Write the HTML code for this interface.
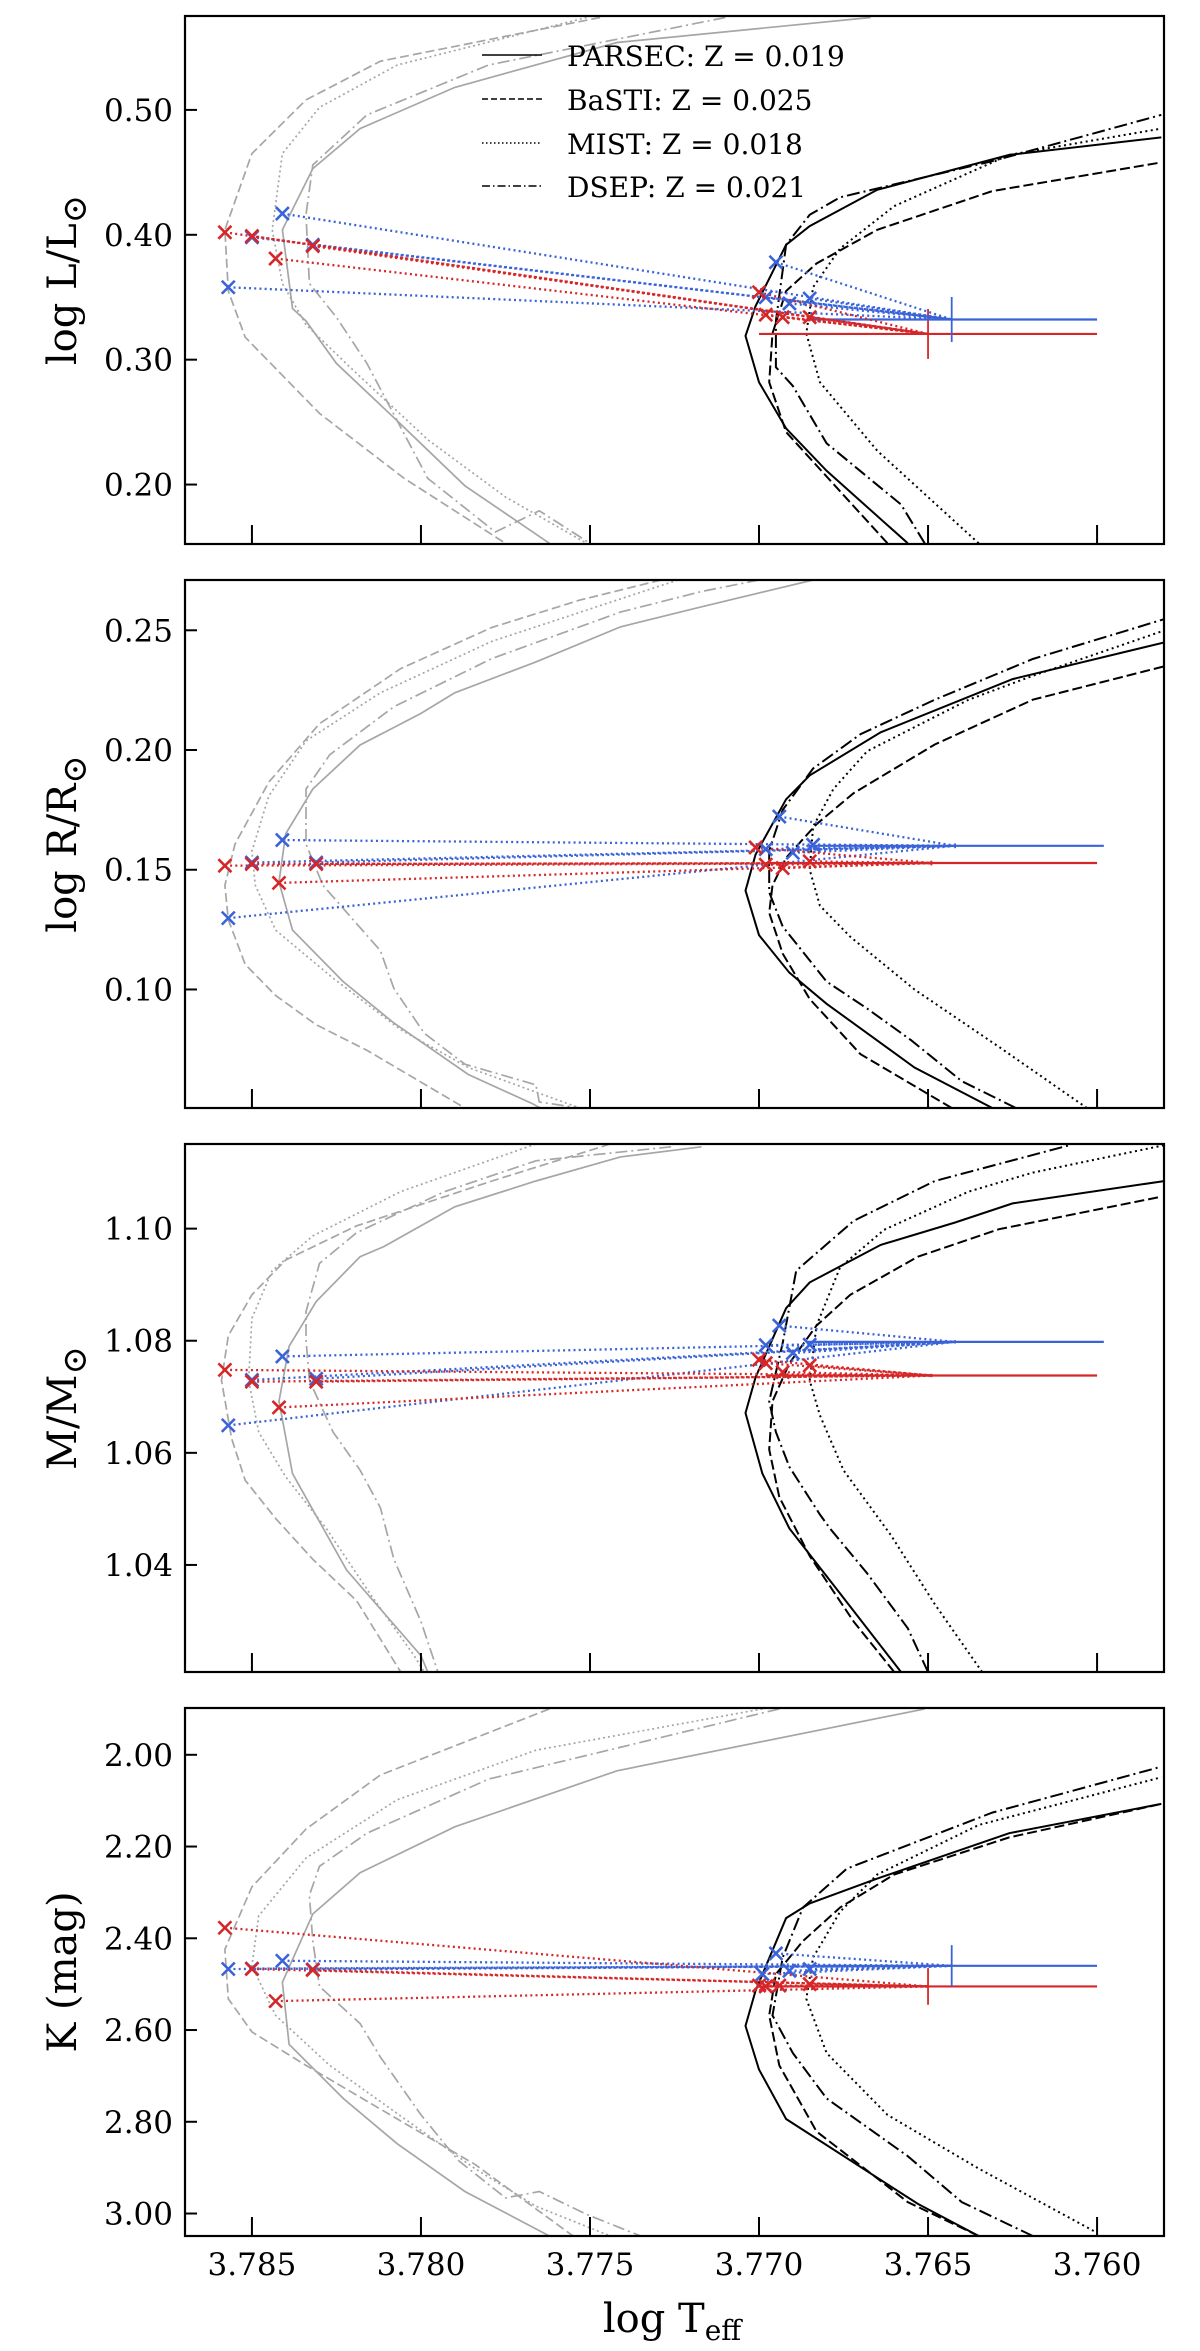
<!DOCTYPE html>
<html><head><meta charset="utf-8"><title>HR-diagram panels</title>
<style>
html,body{margin:0;padding:0;background:#fff;}
svg{display:block;}
text{font-family:"DejaVu Serif","Liberation Serif",serif;fill:#000;}
</style></head>
<body>
<svg id="fig" xmlns="http://www.w3.org/2000/svg" width="1200" height="2351" viewBox="0 0 1200 2351"></svg>
<script>
// ---------- axis configuration data ----------
const xTicks = [3.785, 3.780, 3.775, 3.770, 3.765, 3.760];
const xTickLabels = ["3.785", "3.780", "3.775", "3.770", "3.765", "3.760"];
const yTicksL = [0.50, 0.40, 0.30, 0.20];
const yTickLabelsL = ["0.50", "0.40", "0.30", "0.20"];
const yTicksR = [0.25, 0.20, 0.15, 0.10];
const yTickLabelsR = ["0.25", "0.20", "0.15", "0.10"];
const yTicksM = [1.10, 1.08, 1.06, 1.04];
const yTickLabelsM = ["1.10", "1.08", "1.06", "1.04"];
const yTicksK = [2.00, 2.20, 2.40, 2.60, 2.80, 3.00];
const yTickLabelsK = ["2.00", "2.20", "2.40", "2.60", "2.80", "3.00"];
const modelNames = ["PARSEC: Z = 0.019", "BaSTI: Z = 0.025", "MIST: Z = 0.018", "DSEP: Z = 0.021"];

// ---------- Panel 1: log L ----------
const L_gray_parsec = [[3.7667,0.574],[3.7742,0.554],[3.7790,0.518],[3.7818,0.485],[3.7832,0.453],[3.7841,0.404],[3.7838,0.341],[3.7834,0.331],[3.7825,0.297],[3.7807,0.251],[3.7787,0.199],[3.7762,0.153]];
const L_gray_basti = [[3.7747,0.574],[3.7812,0.539],[3.7834,0.508],[3.7850,0.465],[3.7858,0.404],[3.7857,0.355],[3.7852,0.318],[3.7830,0.257],[3.7805,0.205],[3.7775,0.153]];
const L_gray_mist = [[3.7751,0.574],[3.7807,0.536],[3.7830,0.502],[3.7841,0.465],[3.7844,0.404],[3.7841,0.361],[3.7834,0.328],[3.7821,0.294],[3.7798,0.236],[3.7775,0.190],[3.7751,0.153]];
const L_gray_dsep = [[3.7710,0.574],[3.7780,0.536],[3.7816,0.496],[3.7832,0.456],[3.7834,0.416],[3.7833,0.361],[3.7825,0.334],[3.7816,0.297],[3.7807,0.251],[3.7798,0.205],[3.7778,0.162],[3.7765,0.179],[3.7750,0.153]];
const L_black_parsec = [[3.7656,0.153],[3.7680,0.211],[3.7692,0.245],[3.7700,0.282],[3.7704,0.319],[3.7701,0.343],[3.7692,0.392],[3.7685,0.407],[3.7665,0.436],[3.7626,0.464],[3.7581,0.478]];
const L_black_basti = [[3.7662,0.153],[3.7692,0.242],[3.7697,0.282],[3.7696,0.321],[3.7692,0.355],[3.7683,0.377],[3.7665,0.404],[3.7631,0.435],[3.7581,0.458]];
const L_black_mist = [[3.7635,0.153],[3.7665,0.227],[3.7682,0.282],[3.7686,0.321],[3.7684,0.358],[3.7676,0.389],[3.7660,0.423],[3.7626,0.464],[3.7581,0.485]];
const L_black_dsep = [[3.7651,0.153],[3.7658,0.184],[3.7680,0.233],[3.7690,0.279],[3.7695,0.294],[3.7695,0.331],[3.7692,0.392],[3.7685,0.416],[3.7676,0.430],[3.7631,0.459],[3.7581,0.496]];
const L_red_T = [3.7858,3.7850,3.7843,3.7832,3.7700,3.7698,3.7693,3.7685];
const L_red_y = [0.402,0.399,0.381,0.391,0.354,0.336,0.334,0.334];
const L_blue_T = [3.7857,3.7850,3.7841,3.7832,3.7695,3.7698,3.7691,3.7685];
const L_blue_y = [0.358,0.398,0.417,0.392,0.378,0.350,0.345,0.349];
const L_obs = [[3.7650,0.3206,0.005,0.020],[3.7643,0.3322,0.0043,0.018]];

// ---------- Panel 2: log R ----------
const R_gray_parsec = [[3.7684,0.271],[3.7717,0.2598],[3.7741,0.2514],[3.7766,0.2368],[3.7790,0.2239],[3.7800,0.2153],[3.7818,0.2021],[3.7832,0.1837],[3.7840,0.165],[3.7842,0.1449],[3.7838,0.1248],[3.7823,0.1033],[3.7808,0.086],[3.7786,0.0645],[3.7767,0.0523],[3.7760,0.047]];
const R_gray_basti = [[3.7729,0.271],[3.7753,0.2626],[3.7779,0.2512],[3.7806,0.234],[3.7830,0.211],[3.7845,0.1866],[3.7855,0.1607],[3.7858,0.1435],[3.7857,0.1291],[3.7852,0.1105],[3.7843,0.0975],[3.7831,0.0853],[3.7816,0.0746],[3.7787,0.0505]];
const R_gray_mist = [[3.7724,0.271],[3.7779,0.2454],[3.7812,0.2239],[3.7834,0.2038],[3.7845,0.1808],[3.7850,0.1578],[3.7849,0.1435],[3.7843,0.1248],[3.7826,0.1047],[3.7806,0.0832],[3.7786,0.0674],[3.7753,0.0505]];
const R_gray_dsep = [[3.7700,0.271],[3.7717,0.2662],[3.7741,0.2576],[3.7779,0.2382],[3.7808,0.2181],[3.7827,0.198],[3.7834,0.1837],[3.7834,0.1607],[3.7829,0.1435],[3.7812,0.1162],[3.7808,0.1004],[3.7799,0.0817],[3.7787,0.0688],[3.7766,0.0602],[3.7765,0.053],[3.7753,0.0505]];
const R_black_parsec = [[3.7631,0.0505],[3.7654,0.0674],[3.7680,0.094],[3.7691,0.107],[3.7700,0.1227],[3.7704,0.1413],[3.7701,0.1564],[3.7692,0.1794],[3.7685,0.1894],[3.7664,0.2074],[3.7625,0.2296],[3.7580,0.245]];
const R_black_basti = [[3.7643,0.0505],[3.7670,0.073],[3.7685,0.096],[3.7693,0.115],[3.7697,0.132],[3.7696,0.1435],[3.7692,0.155],[3.7683,0.169],[3.7672,0.182],[3.7648,0.2023],[3.7619,0.221],[3.7580,0.235]];
const R_black_mist = [[3.7603,0.0505],[3.7629,0.076],[3.7654,0.100],[3.7673,0.122],[3.7682,0.135],[3.7685,0.150],[3.7684,0.168],[3.7678,0.1837],[3.7668,0.1995],[3.7638,0.221],[3.7619,0.231],[3.7580,0.250]];
const R_black_dsep = [[3.7624,0.0505],[3.7640,0.0617],[3.7655,0.0788],[3.7668,0.092],[3.7680,0.1033],[3.7693,0.1263],[3.7697,0.1406],[3.7697,0.158],[3.7693,0.175],[3.7684,0.1923],[3.7670,0.2066],[3.7648,0.221],[3.7619,0.238],[3.7580,0.2547]];
const R_red_T = [3.7858,3.7850,3.7842,3.7831,3.7701,3.7698,3.7693,3.7685];
const R_red_y = [0.1517,0.1524,0.1445,0.1524,0.1593,0.1521,0.1507,0.1535];
const R_blue_T = [3.7857,3.7850,3.7841,3.7831,3.7694,3.7698,3.7690,3.7684];
const R_blue_y = [0.1298,0.1530,0.1624,0.1530,0.1722,0.1586,0.1571,0.1604];
const R_obs = [[3.7649,0.1528,0.0049,0.001],[3.7642,0.1600,0.0044,0.001]];

// ---------- Panel 3: M ----------
const M_gray_parsec = [[3.7717,1.1146],[3.7741,1.1128],[3.7766,1.1085],[3.7790,1.1039],[3.7800,1.1005],[3.7811,1.0968],[3.7818,1.0950],[3.7831,1.0870],[3.7839,1.0790],[3.7842,1.0692],[3.7838,1.0563],[3.7822,1.0391],[3.7800,1.0238],[3.7798,1.0209]];
const M_gray_basti = [[3.7744,1.1151],[3.7779,1.1085],[3.7819,1.1005],[3.7840,1.0944],[3.7850,1.0882],[3.7857,1.0809],[3.7859,1.0729],[3.7856,1.0625],[3.7852,1.0551],[3.7843,1.0483],[3.7832,1.0410],[3.7819,1.0336],[3.7806,1.0209]];
const M_gray_mist = [[3.7766,1.1151],[3.7806,1.1066],[3.7832,1.0987],[3.7844,1.0925],[3.7850,1.0840],[3.7851,1.0729],[3.7848,1.0637],[3.7840,1.0557],[3.7828,1.0465],[3.7815,1.0348],[3.7802,1.0238],[3.7799,1.0209]];
const M_gray_dsep = [[3.7726,1.1146],[3.7766,1.1121],[3.7793,1.1066],[3.7819,1.0993],[3.7830,1.0938],[3.7834,1.0852],[3.7834,1.0802],[3.7833,1.0729],[3.7826,1.0637],[3.7818,1.0569],[3.7812,1.0502],[3.7808,1.0410],[3.7800,1.0299],[3.7795,1.0209]];
const M_black_parsec = [[3.7658,1.0209],[3.7676,1.0349],[3.7691,1.0465],[3.7699,1.0563],[3.7704,1.0671],[3.7701,1.0735],[3.7692,1.0858],[3.7685,1.0904],[3.7664,1.0971],[3.7642,1.1011],[3.7625,1.1045],[3.7580,1.1085]];
const M_black_basti = [[3.7660,1.0209],[3.7672,1.0299],[3.7685,1.0416],[3.7694,1.0521],[3.7697,1.0606],[3.7696,1.0692],[3.7691,1.0760],[3.7683,1.0827],[3.7673,1.0882],[3.7653,1.0950],[3.7629,1.0999],[3.7581,1.1057]];
const M_black_mist = [[3.7634,1.0209],[3.7648,1.0330],[3.7661,1.0453],[3.7675,1.0569],[3.7682,1.0667],[3.7685,1.0729],[3.7683,1.0827],[3.7676,1.0931],[3.7663,1.0998],[3.7638,1.1066],[3.7619,1.1100],[3.7580,1.1149]];
const M_black_dsep = [[3.7650,1.0209],[3.7656,1.0287],[3.7668,1.0385],[3.7679,1.0465],[3.7682,1.0490],[3.7691,1.0575],[3.7695,1.0637],[3.7697,1.0692],[3.7693,1.0796],[3.7689,1.0925],[3.7672,1.1014],[3.7648,1.1085],[3.7608,1.1149]];
const M_red_T = [3.7858,3.7850,3.7842,3.7831,3.7700,3.7698,3.7693,3.7685];
const M_red_y = [1.0748,1.0727,1.0681,1.0727,1.0766,1.0760,1.0744,1.0756];
const M_blue_T = [3.7857,3.7850,3.7841,3.7831,3.7694,3.7698,3.7690,3.7685];
const M_blue_y = [1.0649,1.0730,1.0772,1.0732,1.0827,1.0792,1.0778,1.0793];
const M_obs = [[3.7649,1.0738,0.0049,0.0003],[3.7642,1.0798,0.0044,0.0003]];

// ---------- Panel 4: K ----------
const K_gray_parsec = [[3.7651,1.900],[3.7742,2.035],[3.7790,2.157],[3.7818,2.257],[3.7832,2.347],[3.7841,2.496],[3.7839,2.631],[3.7823,2.749],[3.7807,2.848],[3.7787,2.952],[3.7762,3.049]];
const K_gray_basti = [[3.7762,1.900],[3.7812,2.044],[3.7834,2.162],[3.7850,2.288],[3.7858,2.424],[3.7857,2.532],[3.7850,2.604],[3.7834,2.677],[3.7807,2.794],[3.7784,2.893],[3.7755,3.049]];
const K_gray_mist = [[3.7699,1.900],[3.7766,1.990],[3.7807,2.098],[3.7834,2.225],[3.7848,2.351],[3.7850,2.460],[3.7843,2.568],[3.7827,2.677],[3.7803,2.803],[3.7784,2.902],[3.7766,2.984],[3.7744,3.049]];
const K_gray_dsep = [[3.7694,1.900],[3.7780,2.053],[3.7816,2.171],[3.7830,2.243],[3.7833,2.306],[3.7832,2.406],[3.7830,2.505],[3.7818,2.586],[3.7812,2.659],[3.7800,2.785],[3.7789,2.884],[3.7775,2.966],[3.7765,2.952],[3.7751,3.002],[3.7735,3.049]];
const K_black_parsec = [[3.7635,3.049],[3.7653,2.979],[3.7692,2.794],[3.7700,2.686],[3.7704,2.591],[3.7701,2.514],[3.7692,2.356],[3.7685,2.324],[3.7665,2.270],[3.7626,2.171],[3.7581,2.107]];
const K_black_basti = [[3.7635,3.049],[3.7656,2.975],[3.7683,2.821],[3.7694,2.677],[3.7697,2.568],[3.7695,2.478],[3.7687,2.406],[3.7676,2.333],[3.7660,2.261],[3.7626,2.180],[3.7581,2.107]];
const K_black_mist = [[3.7601,3.038],[3.7635,2.902],[3.7662,2.785],[3.7680,2.650],[3.7686,2.532],[3.7684,2.442],[3.7676,2.342],[3.7665,2.261],[3.7635,2.153],[3.7581,2.049]];
const K_black_dsep = [[3.7619,3.049],[3.7640,2.975],[3.7656,2.875],[3.7680,2.749],[3.7690,2.650],[3.7696,2.568],[3.7693,2.442],[3.7687,2.333],[3.7674,2.248],[3.7631,2.126],[3.7581,2.026]];
const K_red_T = [3.7858,3.7850,3.7843,3.7832,3.7700,3.7698,3.7694,3.7685];
const K_red_y = [2.377,2.467,2.537,2.469,2.503,2.505,2.503,2.500];
const K_blue_T = [3.7857,3.7850,3.7841,3.7832,3.7695,3.7699,3.7691,3.7685];
const K_blue_y = [2.467,2.466,2.449,2.468,2.433,2.478,2.471,2.467];
const K_obs = [[3.7650,2.505,0.005,0.040],[3.7643,2.460,0.0043,0.045]];

// ---------- layout ----------
const NS = "http://www.w3.org/2000/svg";
const svg = document.getElementById("fig");
const AX_L = 185, AX_R = 1164;
const X_LEFT = 3.78698, X_RIGHT = 3.75802;
function xScale(t){ return AX_L + (X_LEFT - t) / (X_LEFT - X_RIGHT) * (AX_R - AX_L); }

const panels = [
  {key:"luminosity", top:16, bottom:544, yTop:0.5752, yBot:0.1524, ticks:yTicksL, labels:yTickLabelsL,
   gray:[L_gray_parsec,L_gray_basti,L_gray_mist,L_gray_dsep], black:[L_black_parsec,L_black_basti,L_black_mist,L_black_dsep],
   redT:L_red_T, redY:L_red_y, blueT:L_blue_T, blueY:L_blue_y, obs:L_obs, legend:true},
  {key:"radius", top:580, bottom:1108, yTop:0.2710, yBot:0.0505, ticks:yTicksR, labels:yTickLabelsR,
   gray:[R_gray_parsec,R_gray_basti,R_gray_mist,R_gray_dsep], black:[R_black_parsec,R_black_basti,R_black_mist,R_black_dsep],
   redT:R_red_T, redY:R_red_y, blueT:R_blue_T, blueY:R_blue_y, obs:R_obs},
  {key:"mass", top:1144, bottom:1672, yTop:1.1151, yBot:1.0209, ticks:yTicksM, labels:yTickLabelsM,
   gray:[M_gray_parsec,M_gray_basti,M_gray_mist,M_gray_dsep], black:[M_black_parsec,M_black_basti,M_black_mist,M_black_dsep],
   redT:M_red_T, redY:M_red_y, blueT:M_blue_T, blueY:M_blue_y, obs:M_obs},
  {key:"k-mag", top:1708, bottom:2236, yTop:1.898, yBot:3.049, ticks:yTicksK, labels:yTickLabelsK,
   gray:[K_gray_parsec,K_gray_basti,K_gray_mist,K_gray_dsep], black:[K_black_parsec,K_black_basti,K_black_mist,K_black_dsep],
   redT:K_red_T, redY:K_red_y, blueT:K_blue_T, blueY:K_blue_y, obs:K_obs, xlabels:true}
];
const styleNames = ["parsec","basti","mist","dsep"];
const grayDash = ["", "9,4", "2,3", "12,4,2,4"];
const blackDash = ["", "10,4", "2,3.5", "13,4,2,4"];
const RED = "#d62728", BLUE = "#3a63d8";

function mk(tag, attrs, parent){
  const e = document.createElementNS(NS, tag);
  for (const k in attrs) e.setAttribute(k, attrs[k]);
  (parent || svg).appendChild(e);
  return e;
}

const defs = mk("defs", {});
panels.forEach((p, pi) => {
  const yScale = v => p.top + (v - p.yTop) / (p.yBot - p.yTop) * (p.bottom - p.top);
  const g = mk("g", {});
  
  
  const cp = mk("clipPath", {id:"clip"+pi}, defs);
  mk("rect", {x:AX_L, y:p.top, width:AX_R-AX_L, height:p.bottom-p.top}, cp);
  const plot = mk("g", {"clip-path":"url(#clip"+pi+")"}, g);

  // gray and black model curves
  p.gray.forEach((pts, i) => {
    const pl = mk("polyline", {points: pts.map(q => xScale(q[0]).toFixed(1)+","+yScale(q[1]).toFixed(1)).join(" "),
      fill:"none", stroke:"#a6a6a6", "stroke-width":1.7, "stroke-dasharray":grayDash[i]}, plot);
    
    
  });
  p.black.forEach((pts, i) => {
    const pl = mk("polyline", {points: pts.map(q => xScale(q[0]).toFixed(1)+","+yScale(q[1]).toFixed(1)).join(" "),
      fill:"none", stroke:"#000", "stroke-width":2, "stroke-dasharray":blackDash[i]}, plot);
    
    
  });

  // observed points with error bars
  const obsColors = [RED, BLUE];
  p.obs.forEach((o, k) => {
    const c = obsColors[k];
    const cx = xScale(o[0]), cy = yScale(o[1]);
    const eh = mk("line", {x1:xScale(o[0]+o[2]), x2:xScale(o[0]-o[2]), y1:cy, y2:cy, stroke:c, "stroke-width":2.2}, plot);
    
    
    const ev = mk("line", {x1:cx, x2:cx, y1:yScale(o[1]-o[3]), y2:yScale(o[1]+o[3]), stroke:c, "stroke-width":1.8}, plot);
    
    
  });

  // connecting dotted lines + markers
  const sets = [[p.blueT, p.blueY, BLUE, p.obs[1], "blue"], [p.redT, p.redY, RED, p.obs[0], "red"]];
  sets.forEach(s => {
    const [Ts, Ys, c, o, nm] = s;
    Ts.forEach((t, j) => {
      const ln = mk("line", {x1:xScale(t), y1:yScale(Ys[j]), x2:xScale(o[0]), y2:yScale(o[1]), stroke:c, "stroke-width":2.3, "stroke-dasharray":"2,3.2"}, plot);
      
      
    });
  });
  sets.forEach(s => {
    const [Ts, Ys, c, o, nm] = s;
    Ts.forEach((t, j) => {
      const x = xScale(t), y = yScale(Ys[j]), r = 6.5;
      const m = mk("path", {d:`M${x-r},${y-r}L${x+r},${y+r}M${x-r},${y+r}L${x+r},${y-r}`, stroke:c, "stroke-width":2.6, fill:"none"}, plot);
      
      
    });
  });

  // axes frame
  const fr = mk("rect", {x:AX_L, y:p.top, width:AX_R-AX_L, height:p.bottom-p.top, fill:"none", stroke:"#000", "stroke-width":2.2}, g);
  
  

  // x ticks (inward)
  xTicks.forEach((t, j) => {
    const x = xScale(t);
    const tk = mk("line", {x1:x, x2:x, y1:p.bottom, y2:p.bottom-19, stroke:"#000", "stroke-width":2}, g);
    
    
    if (p.xlabels) {
      const tl = mk("text", {x:x, y:2275, "text-anchor":"middle", "font-size":31}, g);
      tl.textContent = xTickLabels[j];
      
      
    }
  });
  // y ticks
  p.ticks.forEach((v, j) => {
    const y = yScale(v);
    const tk = mk("line", {x1:AX_L, x2:AX_L+12, y1:y, y2:y, stroke:"#000", "stroke-width":2}, g);
    
    
    const tl = mk("text", {x:173, y:y+11, "text-anchor":"end", "font-size":31}, g);
    tl.textContent = p.labels[j];
    
    
  });

  // legend
  if (p.legend) {
    const lg = mk("g", {}, g);
    
    
    const rowsY = [55, 99, 143, 186];
    modelNames.forEach((nmTxt, i) => {
      const ll = mk("line", {x1:482, x2:542, y1:rowsY[i], y2:rowsY[i], stroke:"#000", "stroke-width":1.6, "stroke-dasharray":["","6,3","1.5,2.5","8,3,1.5,3"][i]}, lg);
      
      
      const tx = mk("text", {x:567, y:rowsY[i]+11, "font-size":28}, lg);
      tx.textContent = nmTxt;
      
      
    });
  }
});
</script>

<!-- axis titles -->
<svg style="position:absolute;left:0;top:0" width="1200" height="2351">
  <text transform="translate(76,280) rotate(-90)" text-anchor="middle" font-size="40" style="font-family:'DejaVu Serif',serif">log L/L<tspan font-size="34" dy="10">⊙</tspan></text>
  <text transform="translate(76,844) rotate(-90)" text-anchor="middle" font-size="40" style="font-family:'DejaVu Serif',serif">log R/R<tspan font-size="34" dy="10">⊙</tspan></text>
  <text transform="translate(76,1408) rotate(-90)" text-anchor="middle" font-size="40" style="font-family:'DejaVu Serif',serif">M/M<tspan font-size="34" dy="10">⊙</tspan></text>
  <text transform="translate(76,1972) rotate(-90)" text-anchor="middle" font-size="40" style="font-family:'DejaVu Serif',serif">K (mag)</text>
  <text x="672" y="2332" text-anchor="middle" font-size="40" style="font-family:'DejaVu Serif',serif">log T<tspan font-size="28" dy="8">eff</tspan></text>
</svg>
<style>body{position:relative;width:1200px;height:2351px;overflow:hidden;}</style>
</body></html>
